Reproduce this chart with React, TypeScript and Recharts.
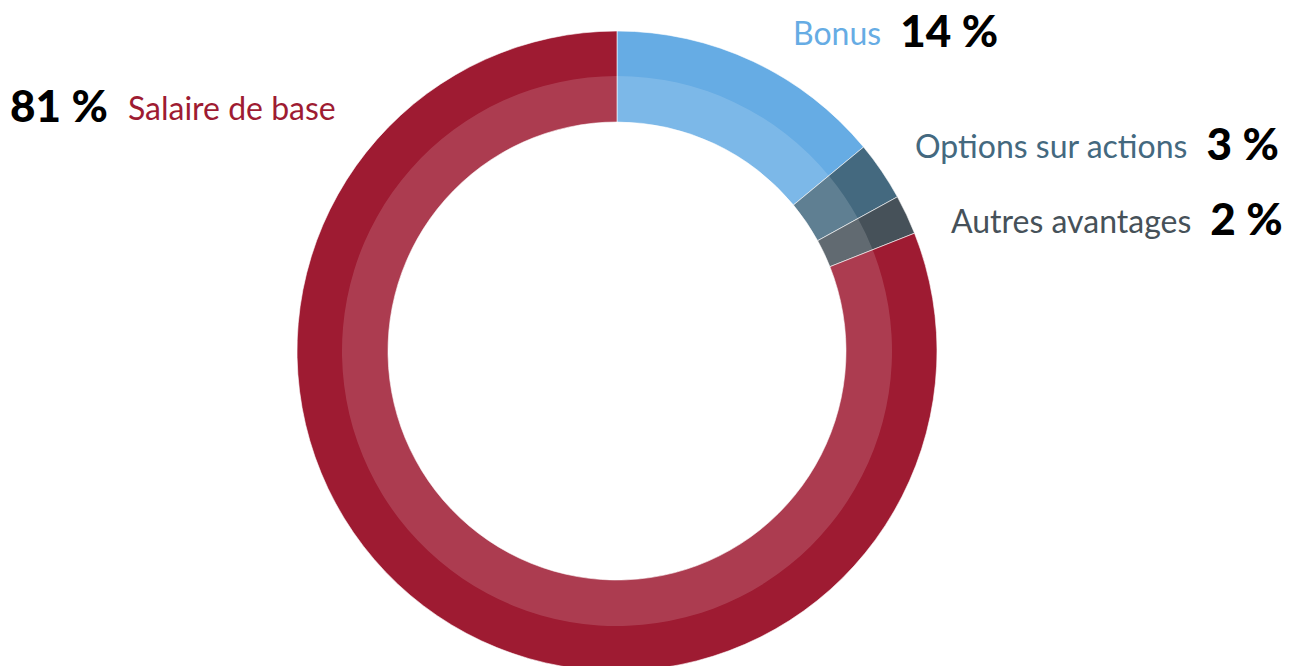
import { PieChart, Pie, Cell } from 'recharts';

const CATEGORIES = ['Bonus', 'Options sur actions', 'Autres avantages', 'Salaire de base'];
const SHARES = [14, 3, 2, 81];
const COLORS = ['#66ace4', '#44697f', '#465159', '#9e1b32'];

// where each annotation sits (left edge x, baseline y) and whether the % comes first
const LABEL_LAYOUT = [
  { x: 793, y: 45, percentFirst: false },
  { x: 915, y: 158, percentFirst: false },
  { x: 951, y: 233, percentFirst: false },
  { x: 10, y: 120, percentFirst: true },
];

const data = CATEGORIES.map((name, i) => ({ name, value: SHARES[i] }));

const NAME_FONT = "Lato, 'Open Sans', sans-serif";
const PCT_FONT = "Lato, 'DejaVu Sans', sans-serif";

const renderLabel = ({ index, value, name }: any) => {
  const pos = LABEL_LAYOUT[index];
  const color = COLORS[index];
  const pct = (
    <tspan fill="#000" fontFamily={PCT_FONT} fontWeight={900} fontSize={44} dy={2}>
      {`${value} %`}
    </tspan>
  );
  if (pos.percentFirst) {
    return (
      <text x={pos.x} y={pos.y} textAnchor="start">
        {pct}
        <tspan fill={color} fontFamily={NAME_FONT} fontWeight={400} fontSize={32} dx={20} dy={-2}>
          {name}
        </tspan>
      </text>
    );
  }
  return (
    <text x={pos.x} y={pos.y} textAnchor="start">
      <tspan fill={color} fontFamily={NAME_FONT} fontWeight={400} fontSize={32}>
        {name}
      </tspan>
      <tspan fill="#000" fontFamily={PCT_FONT} fontWeight={900} fontSize={44} dx={19} dy={2}>
        {`${value} %`}
      </tspan>
    </text>
  );
};

export default function App() {
  return (
    <div style={{ position: 'absolute', left: 0, top: 0, width: 1297, height: 666, background: '#fff' }}>
      <PieChart width={1297} height={666} margin={{ top: 0, right: 0, bottom: 0, left: 0 }}>
        <Pie
          data={data}
          dataKey="value"
          cx={617}
          cy={351}
          innerRadius={229}
          outerRadius={320}
          startAngle={90}
          endAngle={-270}
          stroke="#ffffff"
          strokeWidth={0.6}
          label={renderLabel}
          labelLine={false}
          isAnimationActive={false}
        >
          {data.map((_, i) => (
            <Cell key={`c-${i}`} fill={COLORS[i]} />
          ))}
        </Pie>
        <Pie
          data={data}
          dataKey="value"
          cx={617}
          cy={351}
          innerRadius={229}
          outerRadius={275}
          startAngle={90}
          endAngle={-270}
          fill="#ffffff"
          fillOpacity={0.15}
          stroke="none"
          isAnimationActive={false}
        />
      </PieChart>
    </div>
  );
}
